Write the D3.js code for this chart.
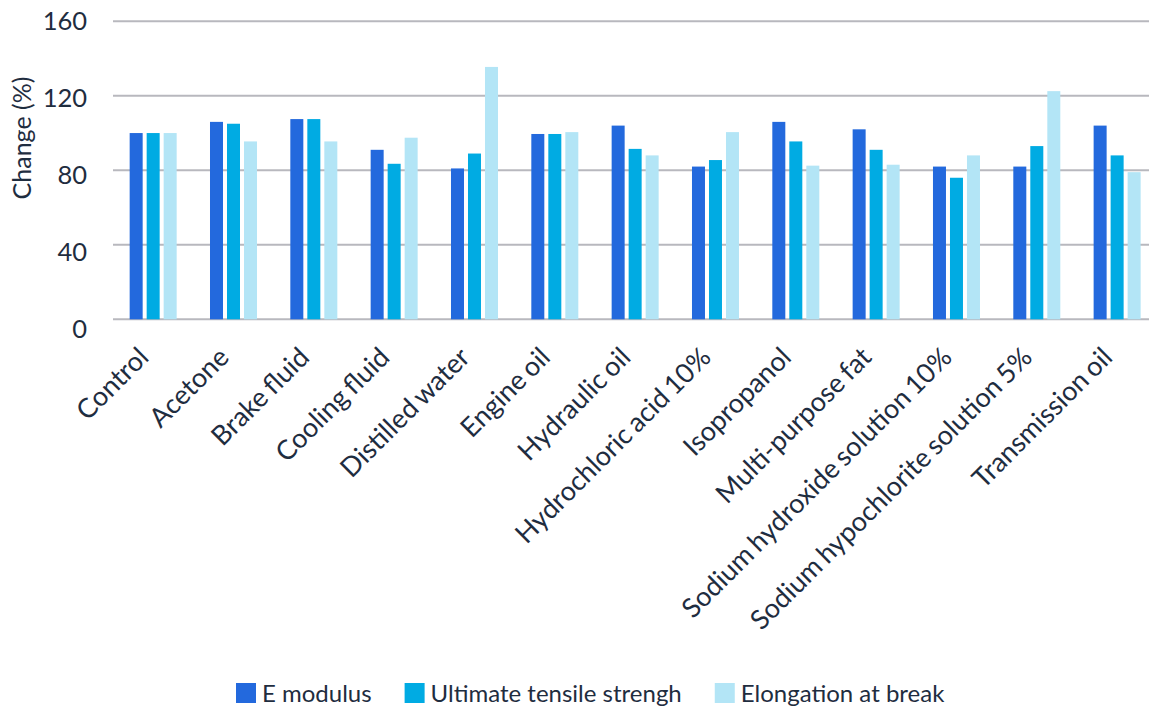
<!DOCTYPE html>
<html>
<head>
<meta charset="utf-8">
<script src="https://cdn.jsdelivr.net/npm/d3@7/dist/d3.min.js"></script>
<style>
  body { margin: 0; background: #fff; }
  svg text { font-family: Lato, "Open Sans", sans-serif; fill: #1f2d3f; }
</style>
</head>
<body>
<svg width="1149" height="709"></svg>
<script>
var categories = ['Control', 'Acetone', 'Brake fluid', 'Cooling fluid', 'Distilled water', 'Engine oil',
  'Hydraulic oil', 'Hydrochloric acid 10%', 'Isopropanol', 'Multi-purpose fat',
  'Sodium hydroxide solution 10%', 'Sodium hypochlorite solution 5%', 'Transmission oil'];
var seriesNames = ['E modulus', 'Ultimate tensile strengh', 'Elongation at break'];
var eModulus   = [100, 106, 107.5, 91, 81, 99.5, 104, 82, 106, 102, 82, 82, 104];
var tensile    = [100, 105, 107.5, 83.5, 89, 99.5, 91.5, 85.5, 95.5, 91, 76, 93, 88];
var elongation = [100, 95.5, 95.5, 97.5, 135.5, 100.5, 88, 100.5, 82.5, 83, 88, 122.5, 79];
var yTicks = [0, 40, 80, 120, 160];
var colors = ['#2369dd', '#00abe3', '#b3e5f6'];

var svg = d3.select('svg'),
    w = +svg.attr('width'),
    h = +svg.attr('height');

var series = [eModulus, tensile, elongation];

var x = d3.scaleBand()
      .domain(categories)
      .range([113, 1157.3])
      .padding(0),
    y = d3.scaleLinear()
      .domain([0, 160])
      .range([319.3, 21.3]),
    yLab = d3.scaleLinear()
      .domain([0, 160])
      .range([329, 21]),
    color = d3.scaleOrdinal()
      .domain(seriesNames)
      .range(colors);

// gridlines
svg.append('g').attr('class', 'grid')
  .selectAll('line')
  .data(yTicks)
  .enter()
  .append('line')
  .attr('x1', 113)
  .attr('x2', w)
  .attr('y1', function(d){ return y(d); })
  .attr('y2', function(d){ return y(d); })
  .attr('stroke', '#b8b8be')
  .attr('stroke-width', 2);

// y tick labels
svg.append('g').attr('class', 'y-labels')
  .selectAll('text')
  .data(yTicks)
  .enter()
  .append('text')
  .attr('x', 87)
  .attr('y', function(d){ return yLab(d); })
  .attr('dy', '0.35em')
  .attr('text-anchor', 'end')
  .style('font-size', '25.5px')
  .text(function(d){ return d; });

svg.append('text')
  .attr('transform', 'translate(31,138) rotate(-90)')
  .attr('text-anchor', 'middle')
  .style('font-size', '25px')
  .text('Change (%)');

// bars
var groups = svg.append('g').attr('class', 'bars')
  .selectAll('g')
  .data(categories)
  .enter()
  .append('g');

groups.each(function(cat, i){
  var cx = x(cat) + x.bandwidth() / 2;
  var sub = d3.scaleBand()
        .domain(seriesNames)
        .range([cx - 23.5, cx + 23.5])
        .paddingInner(4 / 17)
        .paddingOuter(0);

  d3.select(this).selectAll('rect')
    .data(seriesNames.map(function(s, j){ return {name: s, value: series[j][i]}; }))
    .enter()
    .append('rect')
    .attr('x', function(d){ return sub(d.name); })
    .attr('width', sub.bandwidth())
    .attr('y', function(d){ return y(d.value); })
    .attr('height', function(d){ return y(0) - y(d.value); })
    .attr('fill', function(d){ return color(d.name); });
});

// x labels, rotated
svg.append('g').attr('class', 'x-labels')
  .selectAll('text')
  .data(categories)
  .enter()
  .append('text')
  .attr('transform', function(d){
    return 'translate(' + (x(d) + x.bandwidth() / 2 - 3) + ',359) rotate(-45)';
  })
  .attr('text-anchor', 'end')
  .style('font-size', '27px')
  .style('word-spacing', '-2px')
  .text(function(d){ return d; });

// legend
var legend = svg.append('g').attr('class', 'legend');
var lx = 236;
seriesNames.forEach(function(s){
  legend.append('rect')
    .attr('x', lx)
    .attr('y', 683)
    .attr('width', 20)
    .attr('height', 20)
    .attr('fill', color(s));
  var t = legend.append('text')
    .attr('x', lx + 26)
    .attr('y', 702)
    .style('font-size', '24px')
    .text(s);
  lx += 26 + t.node().getComputedTextLength() + 33;
});
</script>
</body>
</html>
